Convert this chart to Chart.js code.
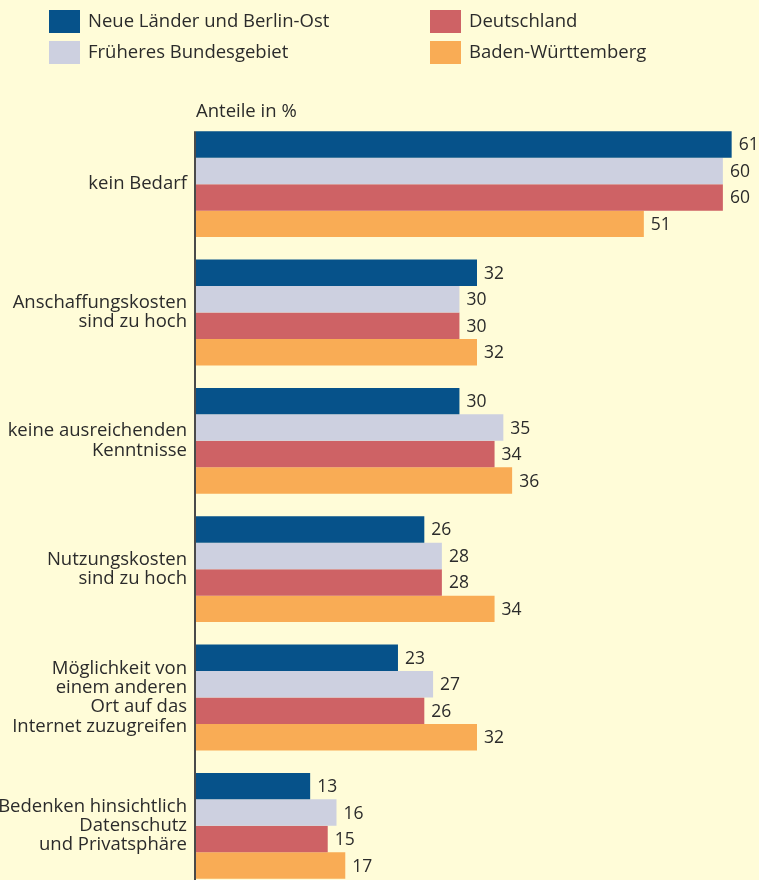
<!DOCTYPE html>
<html>
<head>
<meta charset="utf-8">
<script src="https://cdn.jsdelivr.net/npm/chart.js@4"></script>
<style>
  html, body { margin: 0; padding: 0; background: #fffcd8; overflow: hidden; }
  #clip { width: 759px; height: 880px; overflow: hidden; }
  canvas { display: block; }
</style>
</head>
<body>
<div id="clip"><canvas id="chart" width="759" height="890"></canvas></div>
<script>
  // data
  const categories = [
    'kein Bedarf',
    ['Anschaffungskosten', 'sind zu hoch'],
    ['keine ausreichenden', 'Kenntnisse'],
    ['Nutzungskosten', 'sind zu hoch'],
    ['Möglichkeit von', 'einem anderen', 'Ort auf das', 'Internet zuzugreifen'],
    ['Bedenken hinsichtlich', 'Datenschutz', 'und Privatsphäre']
  ];
  const seriesNames = ['Neue Länder und Berlin-Ost', 'Früheres Bundesgebiet', 'Deutschland', 'Baden-Württemberg'];
  const neueLaender = [61, 32, 30, 26, 23, 13];
  const fruehBund = [60, 30, 35, 28, 27, 16];
  const deutschland = [60, 30, 34, 28, 26, 15];
  const badenWuertt = [51, 32, 36, 34, 32, 17];
  const axisTitle = 'Anteile in %';

  const colors = ['#06528a', '#cdd0e0', '#ce6265', '#f9ac55'];
  const FONT = '"Open Sans", "DejaVu Sans", sans-serif';
  const TEXT = '#2b2b2b';

  // background, legend, axis title, axis line
  const decorPlugin = {
    id: 'decor',
    beforeDraw(chart) {
      const ctx = chart.ctx;
      ctx.save();
      ctx.fillStyle = '#fffcd8';
      ctx.fillRect(0, 0, chart.width, chart.height);
      ctx.restore();
    },
    afterDraw(chart) {
      const ctx = chart.ctx;
      const area = chart.chartArea;
      ctx.save();
      ctx.font = '18.5px ' + FONT;
      ctx.textBaseline = 'middle';
      chart.data.datasets.forEach((ds, i) => {
        const x = i < 2 ? 49 : 430;
        const y = (i % 2) * 31 + 10;
        ctx.fillStyle = ds.backgroundColor;
        ctx.fillRect(x, y, 31, 23);
        ctx.fillStyle = TEXT;
        ctx.fillText(ds.label, x + 39, y + 12);
      });
      ctx.textBaseline = 'alphabetic';
      ctx.fillText(axisTitle, area.left, 117);

      // vertical axis line starting at the first bar
      const first = chart.getDatasetMeta(0).data[0];
      ctx.strokeStyle = '#4a4a4a';
      ctx.lineWidth = 2;
      ctx.beginPath();
      ctx.moveTo(area.left - 1, first.y - first.height / 2);
      ctx.lineTo(area.left - 1, chart.height);
      ctx.stroke();
      ctx.restore();
    }
  };

  // numbers at end of bars
  const valueLabels = {
    id: 'valueLabels',
    afterDatasetsDraw(chart) {
      const ctx = chart.ctx;
      ctx.save();
      ctx.font = '17.5px ' + FONT;
      ctx.fillStyle = TEXT;
      ctx.textBaseline = 'middle';
      chart.data.datasets.forEach((ds, i) => {
        chart.getDatasetMeta(i).data.forEach((bar, j) => {
          ctx.fillText(ds.data[j], bar.x + 7, bar.y + 1);
        });
      });
      ctx.restore();
    }
  };

  const seriesData = [neueLaender, fruehBund, deutschland, badenWuertt];

  new Chart(document.getElementById('chart'), {
    type: 'bar',
    data: {
      labels: categories,
      datasets: seriesData.map((d, i) => ({
        label: seriesNames[i],
        data: d,
        backgroundColor: colors[i],
        borderWidth: 0,
        categoryPercentage: 0.825,
        barPercentage: 1.0
      }))
    },
    options: {
      indexAxis: 'y',
      responsive: false,
      animation: false,
      layout: { padding: { top: 120, bottom: 0, left: 0, right: 1 } },
      plugins: {
        legend: { display: false },
        tooltip: { enabled: false }
      },
      scales: {
        x: {
          display: false,
          min: 0,
          max: 64
        },
        y: {
          afterFit(scale) {
            scale.width = 196;
            // labels sit inside their bands, no extra room needed
            scale.paddingTop = 0;
            scale.paddingBottom = 0;
          },
          grid: { display: false, drawTicks: false },
          border: { display: false },
          ticks: {
            padding: 9,
            color: TEXT,
            font: { family: FONT, size: 18.5, lineHeight: 1.04 }
          }
        }
      }
    },
    plugins: [decorPlugin, valueLabels]
  });
</script>
</body>
</html>
